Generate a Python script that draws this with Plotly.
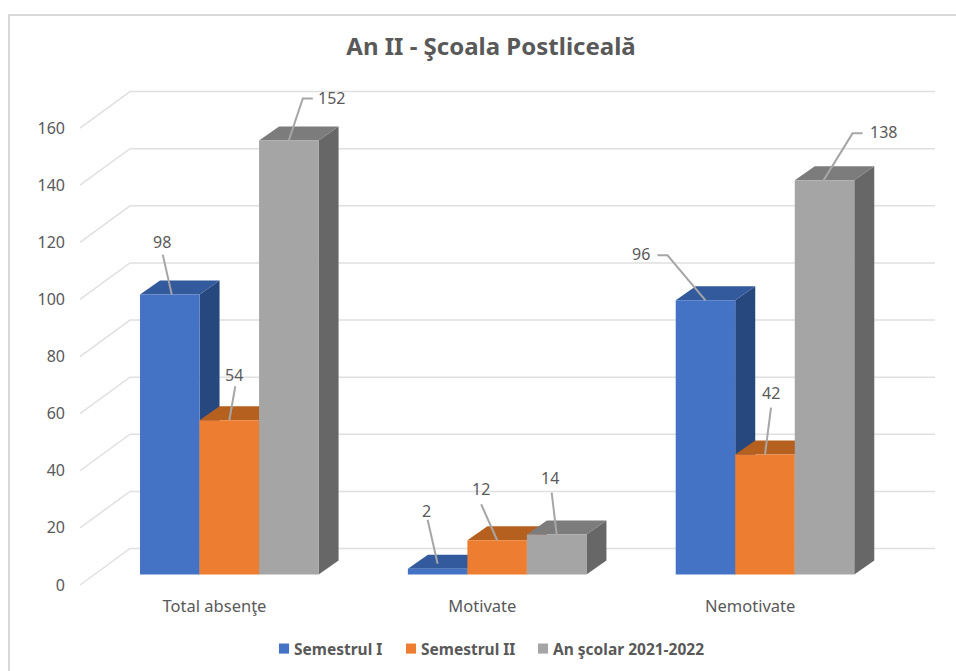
import plotly.graph_objects as go

# ---- data ----
categories = ["Total absenţe", "Motivate", "Nemotivate"]
semestrul_1 = [98, 2, 96]
semestrul_2 = [54, 12, 42]
an_scolar = [152, 14, 138]
series_names = ["Semestrul I", "Semestrul II", "An şcolar 2021-2022"]
y_ticks = list(range(0, 180, 20))
title_text = "An II - Şcoala Postliceală"

# ---- colours ----
front_colors = ["#4472C4", "#ED7D31", "#A5A5A5"]
top_colors = ["#335A9C", "#B5601F", "#7C7C7C"]
side_colors = ["#27477F", "#9E4F1B", "#676767"]
TEXT = "#595959"
GRID = "#E0E0E0"
FONT = "Noto Sans"

# ---- layout geometry (pixels) ----
W, H = 956, 671
PL, PR, PT, PB = 68, 946, 60, 594      # plot rectangle
FRONT_ZERO = 585                       # y of value 0 on the front of the axis
PX_PER_UNIT = 2.856
BAR_SHIFT = 10.5                       # bars stand this far behind the axis front
GROUP_PX = 267.85
CENTER_0 = 229.3                       # first group centre
LABEL_0 = 214.5                        # first category label centre
GAP = 1 / 3
DEPTH_X, DEPTH_Y = 20, 14              # bar depth
WALL_FRONT_X, WALL_X, WALL_END = 80, 130, 935
WALL_DY = 36.5
LEGEND_TEXT_X = [294, 421, 553]        # where each legend text starts
LEGEND_Y = 649

y_lo = (FRONT_ZERO - PB) / PX_PER_UNIT
y_hi = (FRONT_ZERO - PT) / PX_PER_UNIT
shift = BAR_SHIFT / PX_PER_UNIT
x_px = lambda px, c: (px - c) / GROUP_PX
bar_w = (1 - GAP) / 3
dx = DEPTH_X / GROUP_PX
dy = DEPTH_Y / PX_PER_UNIT
all_series = [semestrul_1, semestrul_2, an_scolar]

fig = go.Figure()

# back wall and left wall grid lines, on the tick axis
for v in y_ticks:
    back = v + WALL_DY / PX_PER_UNIT
    fig.add_trace(go.Scatter(
        x=[x_px(WALL_FRONT_X, LABEL_0), x_px(WALL_X, LABEL_0), x_px(WALL_END, LABEL_0)],
        y=[v, back, back], mode="lines", line=dict(color=GRID, width=1.5),
        showlegend=False, hoverinfo="skip", xaxis="x", yaxis="y"))

# top and side faces of the bars, series by series
for s, vals in enumerate(all_series):
    for g, v in enumerate(vals):
        left = g - 1.5 * bar_w + s * bar_w
        right = left + bar_w
        fig.add_trace(go.Scatter(
            x=[right, right + dx, right + dx, right, right],
            y=[0, dy, v + dy, v, 0], mode="lines", fill="toself",
            fillcolor=side_colors[s], line=dict(width=0), showlegend=False,
            hoverinfo="skip", xaxis="x2", yaxis="y2"))
        fig.add_trace(go.Scatter(
            x=[left, right, right + dx, left + dx, left],
            y=[v, v, v + dy, v + dy, v], mode="lines", fill="toself",
            fillcolor=top_colors[s], line=dict(width=0), showlegend=False,
            hoverinfo="skip", xaxis="x2", yaxis="y2"))

# front faces, each series with its own legend so its entry can be placed exactly
legend_ids = ["legend", "legend2", "legend3"]
for s, vals in enumerate(all_series):
    fig.add_trace(go.Bar(
        x=[0, 1, 2], y=vals, name=series_names[s], marker=dict(color=front_colors[s], line=dict(width=0)),
        xaxis="x2", yaxis="y3", legend=legend_ids[s], showlegend=True))

# data labels: pixel offsets from the top-centre of each bar
# (leader path points, label position)
leaders = {
    (0, 0): ([(2, 0), (-7, -40)], (-8, -53)),
    (1, 0): ([(0, 0), (6, -34)], (5, -45)),
    (2, 0): ([(0, 0), (14, -42), (24, -42)], (43, -42)),
    (0, 1): ([(0, -5), (-10, -49)], (-11, -58)),
    (1, 1): ([(0, 0), (-16, -36)], (-16, -51)),
    (2, 1): ([(0, 0), (-5, -42)], (-7, -57)),
    (0, 2): ([(0, 0), (-38, -45), (-48, -45)], (-64, -46)),
    (1, 2): ([(0, 0), (6, -47)], (6, -62)),
    (2, 2): ([(-1, 0), (28, -47), (38, -47)], (59, -48)),
}
annotations = []
for (s, g), (path, lab) in leaders.items():
    v = all_series[s][g]
    cx = g - bar_w + s * bar_w
    fig.add_trace(go.Scatter(
        x=[cx + p[0] / GROUP_PX for p in path],
        y=[v - p[1] / PX_PER_UNIT for p in path],
        mode="lines", line=dict(color="#A6A6A6", width=2), showlegend=False,
        hoverinfo="skip", xaxis="x2", yaxis="y3"))
    annotations.append(dict(
        x=cx, y=v, xref="x2", yref="y3", xshift=lab[0], yshift=-lab[1],
        text=str(v), showarrow=False, font=dict(family=FONT, size=16, color=TEXT)))

# chart frame
sx = lambda px: (px - PL) / (PR - PL)
fy = lambda px: (PB - px) / (PB - PT)
shapes = [dict(type="path", xref="paper", yref="paper",
               path=f"M {sx(9)} {fy(671)} L {sx(9)} {fy(15)} L {sx(956)} {fy(15)}",
               line=dict(color="#D9D9D9", width=2))]

legend_style = dict(orientation="h", y=fy(LEGEND_Y), yanchor="middle", xanchor="left", itemwidth=30,
                    bgcolor="rgba(0,0,0,0)",
                    font=dict(family=FONT, size=15.5, color=TEXT, weight="bold"))
legends = {lid: dict(x=sx(tx - 40), **legend_style) for lid, tx in zip(legend_ids, LEGEND_TEXT_X)}

axis_off = dict(showgrid=False, zeroline=False, showticklabels=False, ticks="", showline=False)
fig.update_layout(
    width=W, height=H, autosize=False,
    margin=dict(l=PL, r=W - PR, t=PT, b=H - PB, pad=0, autoexpand=False),
    paper_bgcolor="white", plot_bgcolor="white",
    font=dict(family=FONT, color=TEXT),
    title=dict(text=f"<b>{title_text}</b>", x=491 / W, xanchor="center", y=1 - 47 / H, yanchor="middle",
               font=dict(family=FONT, size=24, color=TEXT)),
    barmode="group", bargap=GAP, bargroupgap=0,
    xaxis=dict(range=[x_px(PL, LABEL_0), x_px(PR, LABEL_0)], tickmode="array", tickvals=[0, 1, 2],
               ticktext=categories, showgrid=False, zeroline=False, showline=False, ticks="",
               tickfont=dict(family=FONT, size=16.5, color=TEXT)),
    yaxis=dict(range=[y_lo, y_hi], tickmode="array", tickvals=y_ticks, showgrid=False, zeroline=False,
               showline=False, ticks="", ticklabelstandoff=2, tickfont=dict(family=FONT, size=16, color=TEXT)),
    xaxis2=dict(range=[x_px(PL, CENTER_0), x_px(PR, CENTER_0)], overlaying="x", anchor="y2", **axis_off),
    yaxis2=dict(range=[y_lo - shift, y_hi - shift], overlaying="y", anchor="x2", **axis_off),
    yaxis3=dict(range=[y_lo - shift, y_hi - shift], overlaying="y", anchor="x2", **axis_off),
    annotations=annotations, shapes=shapes,
    **legends,
)

# pull the legend swatches next to their text, at the reference's smaller size
post = """
document.body.style.margin='0';document.body.style.overflow='hidden';
var gd=document.getElementById('{plot_id}');
function tidyLegend(){
  gd.querySelectorAll('.legendpoints .legendbar path, .legendpoints .legendundefined path, .legendpoints path').forEach(function(p){
    p.setAttribute('transform','translate(30,0) scale(0.84)');
  });
}
tidyLegend();
gd.on('plotly_afterplot',tidyLegend);
"""
fig.write_html("out.html", config={"displayModeBar": False}, post_script=post)
